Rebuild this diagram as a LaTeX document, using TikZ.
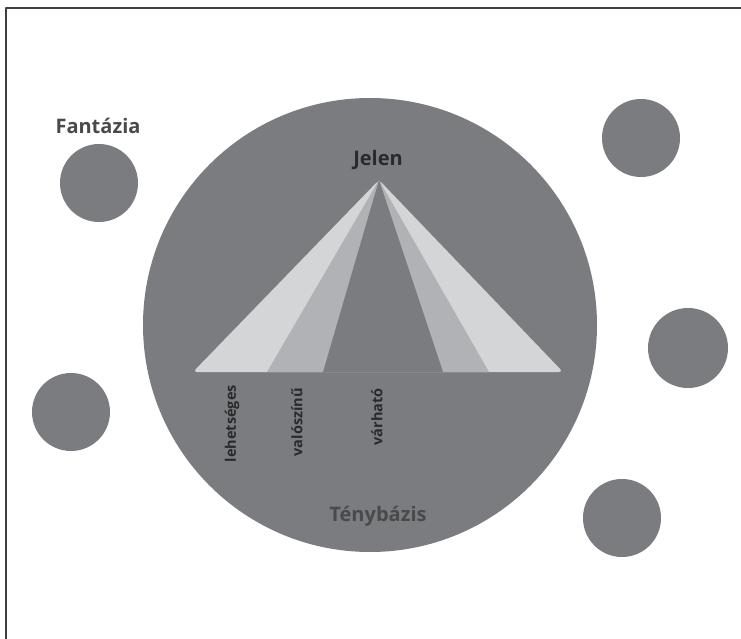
\documentclass[tikz,border=0pt]{standalone}
\usepackage{fontspec}
\setmainfont{Open Sans}
\definecolor{kor}{HTML}{7B7C80}
\definecolor{vilagos}{HTML}{D4D5D7}
\definecolor{kozep}{HTML}{B1B2B5}
\definecolor{felirat}{HTML}{4A4A4C}
\definecolor{sotet}{HTML}{2A2A2C}
\begin{document}
\begin{tikzpicture}[x=1pt,y=-1pt,line join=round,
    kiskor/.style={fill=kor,draw=none},
    cim/.style={font=\fontsize{20}{24}\selectfont\bfseries,text=felirat,inner sep=0pt},
    savfelirat/.style={font=\fontsize{14.5}{17}\selectfont\bfseries,text=sotet,rotate=90,anchor=east,inner sep=0pt}]
                \def\mykx{370}\def\myky{325}\def\mykr{227}
                \def\mycsx{379}\def\mycsy{180}\def\myalap{372}
                \useasboundingbox (0,0) rectangle (741,639);
                \fill[white] (0,0) rectangle (741,639);
                \draw[line width=1.6pt,sotet!90] (6,639)--(6,8)--(741,8);
                \fill[kor] (\mykx,\myky) circle (\mykr);
                \fill[kiskor] (99,183) circle (39) (641,138) circle (39) (71,412) circle (39) (688,348) circle (40) (622,518) circle (39);
                \fill[vilagos,rounded corners=4pt] (\mycsx,\mycsy)--(193,\myalap)--(563,\myalap)--cycle;
                \fill[kozep] (\mycsx,\mycsy)--(267,\myalap)--(489,\myalap)--cycle;
                \fill[kor] (\mycsx,\mycsy)--(323,\myalap)--(443,\myalap)--cycle;
                \node[cim] (nfantazia) at (98,126) {Fantázia};
                \node[cim,text=sotet] (njelen) at (378,160) {Jelen};
                \node[cim] (ntenybazis) at (378,516) {Ténybázis};
                \node[savfelirat] (nlehetseges) at (232,385) {lehetséges};
                \node[savfelirat] (nvaloszinu) at (297,388) {valószínű};
                \node[savfelirat] (nvarhato) at (377,388) {várható};
            \end{tikzpicture}
\end{document}
